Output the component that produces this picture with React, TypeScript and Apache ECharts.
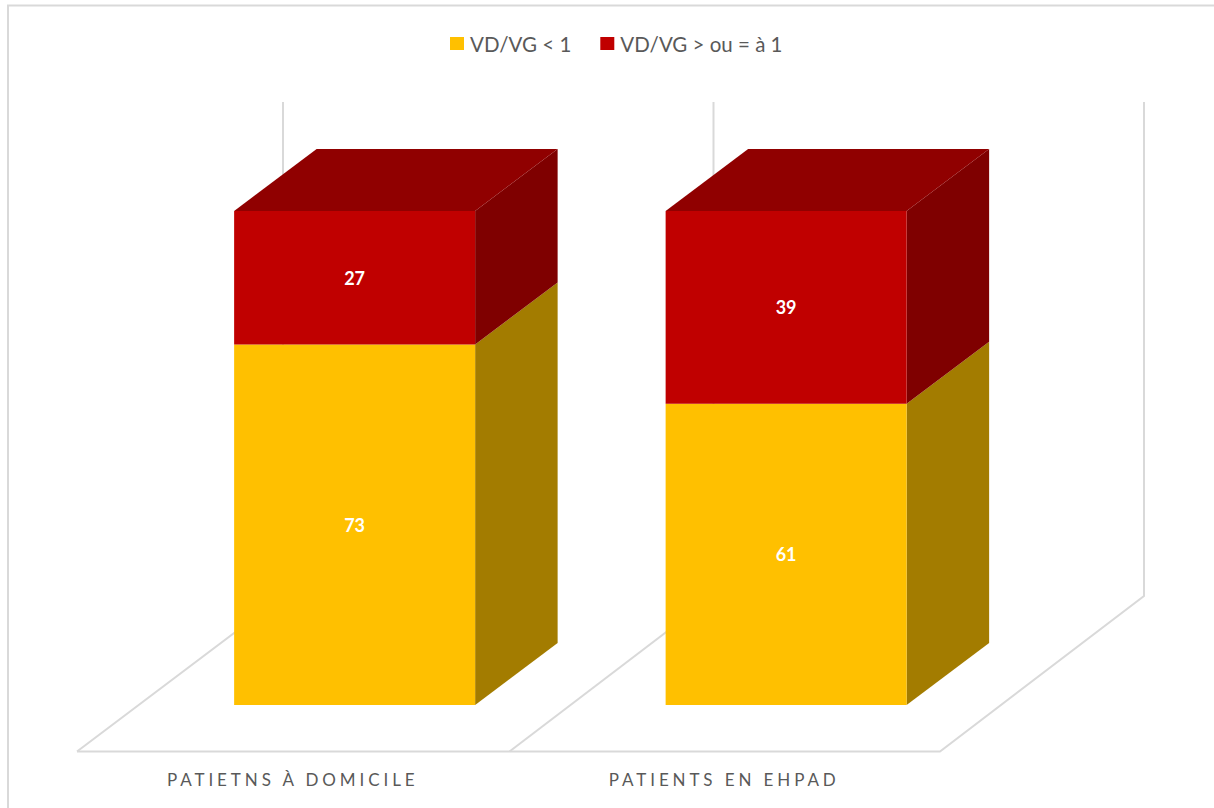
import React, { useEffect, useRef } from "react";
import * as echarts from "echarts";

const categories = ["PATIETNS À DOMICILE", "PATIENTS EN EHPAD"];
const seriesNames = ["VD/VG < 1", "VD/VG > ou = à 1"];
const lowValues = [73, 61];
const highValues = [27, 39];

const FRONT = ["#FFC000", "#C00000"];
const SIDE = ["#A37C00", "#7F0000"];
const TOP = "#900000";
const LINE = "#D9D9D9";
const TEXT = "#595959";
const FONT = "Lato";

const DEPTH_X = 82.5;
const DEPTH_Y = 62;
const BAR_W = 241;
const GRID = { left: 77, top: 211, width: 863, height: 494 };
const FLOOR_Y = 751.5;
const BACK_Y = 596;
const WALL_TOP = 102;

function stackItem(layer: number, isTop: boolean) {
  return (_p: any, api: any) => {
    const idx = api.value(0);
    const v0 = api.value(1);
    const v1 = api.value(2);
    const a = api.coord([idx, v0]);
    const b = api.coord([idx, v1]);
    const cx = a[0] + DEPTH_X * 0.75;
    const x0 = cx - BAR_W / 2;
    const x1 = cx + BAR_W / 2;
    const y0 = a[1];
    const y1 = b[1];
    const children: any[] = [
      {
        type: "polygon",
        shape: {
          points: [
            [x1, y1],
            [x1 + DEPTH_X, y1 - DEPTH_Y],
            [x1 + DEPTH_X, y0 - DEPTH_Y],
            [x1, y0],
          ],
        },
        style: { fill: SIDE[layer] },
      },
      {
        type: "rect",
        shape: { x: x0, y: y1, width: BAR_W, height: y0 - y1 },
        style: { fill: FRONT[layer] },
      },
    ];
    if (isTop) {
      children.push({
        type: "polygon",
        shape: {
          points: [
            [x0, y1],
            [x0 + DEPTH_X, y1 - DEPTH_Y],
            [x1 + DEPTH_X, y1 - DEPTH_Y],
            [x1, y1],
          ],
        },
        style: { fill: TOP },
      });
    }
    children.push({
      type: "text",
      style: {
        text: String(v1 - v0),
        x: cx,
        y: (y0 + y1) / 2,
        fill: "#FFFFFF",
        fontFamily: FONT,
        fontWeight: "bold",
        fontSize: 18,
        align: "center",
        verticalAlign: "middle",
      },
    });
    return { type: "group", children };
  };
}

function frameLine(points: number[][], width = 2) {
  return {
    type: "polyline",
    z: 0,
    silent: true,
    shape: { points },
    style: { stroke: LINE, lineWidth: width, fill: "none" },
  };
}

export default function App() {
  const ref = useRef<HTMLDivElement>(null);

  useEffect(() => {
    if (!ref.current) return;
    const chart = echarts.init(ref.current, undefined, { renderer: "svg" });
    const x0 = GRID.left;
    const xm = GRID.left + GRID.width / 2;
    const x2 = GRID.left + GRID.width;
    const dx = 204;
    chart.setOption({
      animation: false,
      backgroundColor: "#FFFFFF",
      grid: { ...GRID, containLabel: false },
      legend: {
        left: 450,
        top: 33,
        itemWidth: 14,
        itemHeight: 13,
        itemGap: 29,
        padding: 0,
        textStyle: { color: TEXT, fontSize: 20.5, fontFamily: FONT, padding: [0, 0, 0, 1] },
        data: seriesNames.map((name) => ({ name, icon: "rect" })),
      },
      xAxis: {
        type: "category",
        data: categories,
        axisLine: { show: false },
        axisTick: { show: false },
        splitLine: { show: false },
        axisLabel: { color: TEXT, fontFamily: FONT, fontSize: 17, margin: 66, interval: 0 },
      },
      yAxis: { type: "value", min: 0, max: 100, show: false },
      graphic: [
        {
          type: "rect",
          z: 0,
          silent: true,
          shape: { x: 8, y: 5.5, width: 1300, height: 900 },
          style: { fill: "none", stroke: LINE, lineWidth: 2 },
        },
        frameLine([[x0, FLOOR_Y], [x2, FLOOR_Y], [x2 + dx, BACK_Y], [x2 + dx, WALL_TOP]]),
        frameLine([[x0, FLOOR_Y], [x0 + dx + 2, BACK_Y], [x0 + dx + 2, WALL_TOP]]),
        frameLine([[xm + 1, FLOOR_Y], [xm + dx + 1, BACK_Y], [xm + dx + 1, WALL_TOP]]),
      ],
      series: [
        {
          name: seriesNames[0],
          type: "custom",
          z: 3,
          itemStyle: { color: FRONT[0] },
          renderItem: stackItem(0, false),
          encode: { x: 0, y: [1, 2] },
          data: lowValues.map((v, i) => [i, 0, v]),
        },
        {
          name: seriesNames[1],
          type: "custom",
          z: 3,
          itemStyle: { color: FRONT[1] },
          renderItem: stackItem(1, true),
          encode: { x: 0, y: [1, 2] },
          data: highValues.map((v, i) => [i, lowValues[i], lowValues[i] + v]),
        },
      ],
    });
    const spaceLabels = () => {
      ref.current?.querySelectorAll("text").forEach((t) => {
        if (categories.includes(t.textContent || "")) {
          (t as SVGTextElement).style.letterSpacing = "3.9px";
        }
      });
    };
    spaceLabels();
    chart.on("finished", spaceLabels);
    return () => chart.dispose();
  }, []);

  return (
    <div
      ref={ref}
      style={{ position: "fixed", left: 0, top: 0, width: 1214, height: 808, background: "#fff" }}
    />
  );
}
